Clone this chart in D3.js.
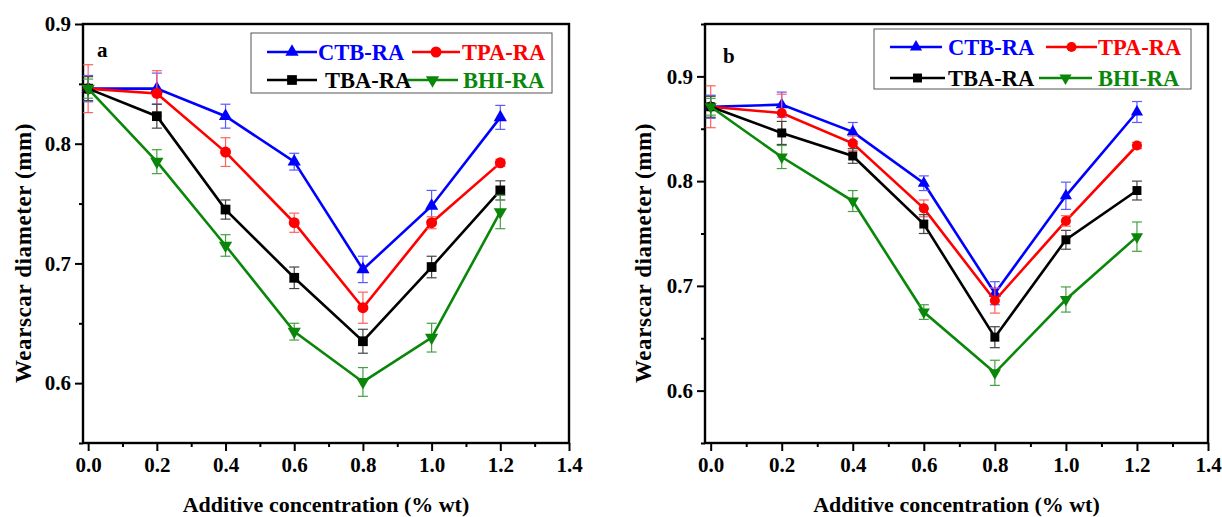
<!DOCTYPE html>
<html><head><meta charset="utf-8">
<script src="https://cdn.jsdelivr.net/npm/d3@7"></script>
<style>body{margin:0;background:#fff;} svg{display:block;}</style>
</head><body>
<svg id="chart" width="1222" height="517"></svg>
<script>
const xValues = [0, 0.2, 0.4, 0.6, 0.8, 1.0, 1.2];
const seriesNames = ["CTB-RA", "TPA-RA", "TBA-RA", "BHI-RA"];
const seriesColors = ["#0000ff", "#ff0000", "#000000", "#0a870a"];
const errColors = ["#5a5aff", "#ff6060", "#444444", "#45a045"];
const seriesSymbols = ["triangle", "circle", "square", "triangleDown"];

// Panel a
const aCTB = [0.846, 0.846, 0.823, 0.785, 0.695, 0.748, 0.822];
const aTPA = [0.846, 0.842, 0.793, 0.734, 0.663, 0.734, 0.784];
const aTBA = [0.846, 0.823, 0.745, 0.688, 0.635, 0.697, 0.761];
const aBHI = [0.846, 0.785, 0.715, 0.643, 0.601, 0.638, 0.743];
const aCTBerr = [0.011, 0.013, 0.010, 0.007, 0.011, 0.013, 0.010];
const aTPAerr = [0.020, 0.019, 0.012, 0.008, 0.013, 0.005, 0.003];
const aTBAerr = [0.010, 0.010, 0.008, 0.009, 0.010, 0.009, 0.008];
const aBHIerr = [0.008, 0.010, 0.009, 0.007, 0.012, 0.012, 0.014];

// Panel b
const bCTB = [0.871, 0.873, 0.847, 0.798, 0.693, 0.786, 0.866];
const bTPA = [0.871, 0.865, 0.836, 0.774, 0.686, 0.762, 0.834];
const bTBA = [0.871, 0.846, 0.824, 0.759, 0.651, 0.744, 0.791];
const bBHI = [0.871, 0.823, 0.781, 0.675, 0.617, 0.687, 0.747];
const bCTBerr = [0.011, 0.012, 0.009, 0.007, 0.011, 0.013, 0.010];
const bTPAerr = [0.020, 0.018, 0.007, 0.008, 0.012, 0.005, 0.003];
const bTBAerr = [0.010, 0.011, 0.007, 0.009, 0.010, 0.009, 0.009];
const bBHIerr = [0.008, 0.011, 0.010, 0.007, 0.012, 0.012, 0.014];

const xTicks = [0, 0.2, 0.4, 0.6, 0.8, 1.0, 1.2, 1.4];
const xMinorTicks = [0.1, 0.3, 0.5, 0.7, 0.9, 1.1, 1.3];
const yTicks = [0.6, 0.7, 0.8, 0.9];
const yMinorA = [0.55, 0.65, 0.75, 0.85];
const yMinorB = [0.55, 0.65, 0.75, 0.85, 0.95];

const xTitle = "Additive concentration (% wt)";
const yTitle = "Wearscar diameter (mm)";

const FONT = "'Liberation Serif','Times New Roman',serif";
const svg = d3.select("#chart");

function drawPanel(cfg) {
  const g = svg.append("g");
  const x = d3.scaleLinear().domain(cfg.xDomain).range([cfg.left, cfg.right]);
  const y = d3.scaleLinear().domain(cfg.yDomain).range([cfg.bottom, cfg.top]);

  // axes
  const xAxis = d3.axisBottom(x).tickValues(xTicks).tickFormat(d3.format(".1f")).tickSize(8).tickPadding(6);
  const xa = g.append("g").attr("transform", `translate(0,${cfg.bottom})`).call(xAxis);
  const xm = g.append("g").attr("transform", `translate(0,${cfg.bottom})`).call(d3.axisBottom(x).tickValues(xMinorTicks).tickFormat("").tickSize(4));
  const yAxis = d3.axisLeft(y).tickValues(yTicks).tickFormat(d3.format(".1f")).tickSize(8).tickPadding(4);
  const ya = g.append("g").attr("transform", `translate(${cfg.left},0)`).call(yAxis);
  const ym = g.append("g").attr("transform", `translate(${cfg.left},0)`).call(d3.axisLeft(y).tickValues(cfg.yMinor).tickFormat("").tickSize(4));
  [xa, xm, ya, ym].forEach(a => {
    a.select(".domain").remove();
    a.selectAll(".tick line").attr("stroke", "#000").attr("stroke-width", 2);
    a.selectAll("text").attr("font-family", FONT).attr("font-weight", "bold").attr("font-size", 21).attr("fill", "#000");
  });

  // frame
  g.append("rect").attr("x", cfg.left).attr("y", cfg.top)
    .attr("width", cfg.right - cfg.left).attr("height", cfg.bottom - cfg.top)
    .attr("fill", "none").attr("stroke", "#000").attr("stroke-width", 2.4);

  // titles
  g.append("text").attr("x", (cfg.left + cfg.right) / 2).attr("y", 512)
    .attr("text-anchor", "middle").attr("font-family", FONT).attr("font-weight", "bold")
    .attr("font-size", 22).text(xTitle);
  g.append("text").attr("transform", `translate(${cfg.yTitleX},253) rotate(-90)`)
    .attr("text-anchor", "middle").attr("font-family", FONT).attr("font-weight", "bold")
    .attr("font-size", 23).attr("letter-spacing", 0.6).text(yTitle);
  g.append("text").attr("x", cfg.labelX).attr("y", cfg.labelY).attr("font-family", FONT)
    .attr("font-weight", "bold").attr("font-size", 21).text(cfg.label);

  const sz = cfg.markerSize;
  const symbols = {
    triangle: d3.symbol().type(d3.symbolTriangle).size(sz * 0.8),
    circle: d3.symbol().type(d3.symbolCircle).size(sz),
    square: d3.symbol().type(d3.symbolSquare).size(sz),
    triangleDown: d3.symbol().type(d3.symbolTriangle).size(sz * 0.8)
  };
  function marker(sel, s, px, py, color) {
    sel.append("path").attr("d", symbols[s]())
      .attr("transform", `translate(${px},${py})` + (s === "triangleDown" ? " rotate(180)" : ""))
      .attr("fill", color);
  }

  // series
  cfg.series.forEach((vals, i) => {
    const errs = cfg.errors[i];
    const col = seriesColors[i];
    const line = d3.line().x((d, j) => x(xValues[j])).y(d => y(d));
    g.append("path").datum(vals).attr("d", line).attr("fill", "none")
      .attr("stroke", col).attr("stroke-width", 2.6);
    vals.forEach((v, j) => {
      const px = x(xValues[j]);
      const y1 = y(v + errs[j]), y2 = y(v - errs[j]);
      const eg = g.append("g").attr("stroke", errColors[i]).attr("stroke-width", 1.2);
      eg.append("line").attr("x1", px).attr("x2", px).attr("y1", y1).attr("y2", y2);
      eg.append("line").attr("x1", px - 5).attr("x2", px + 5).attr("y1", y1).attr("y2", y1);
      eg.append("line").attr("x1", px - 5).attr("x2", px + 5).attr("y1", y2).attr("y2", y2);
    });
    vals.forEach((v, j) => marker(g, seriesSymbols[i], x(xValues[j]), y(v), col));
  });

  // legend
  const L = cfg.legend;
  g.append("rect").attr("x", L.x).attr("y", L.y).attr("width", L.w).attr("height", L.h)
    .attr("fill", "#fff").attr("stroke", "#555").attr("stroke-width", 1);
  seriesNames.forEach((name, i) => {
    const e = L.entries[i];
    const ly = L.y + L.rows[Math.floor(i / 2)];
    g.append("line").attr("x1", L.x + e[0]).attr("x2", L.x + e[1]).attr("y1", ly).attr("y2", ly)
      .attr("stroke", seriesColors[i]).attr("stroke-width", 2.6);
    marker(g, seriesSymbols[i], L.x + (e[0] + e[1]) / 2, ly, seriesColors[i]);
    g.append("text").attr("x", L.x + e[2]).attr("y", ly + 8)
      .attr("font-family", FONT).attr("font-weight", "bold").attr("font-size", 22.5)
      .attr("fill", seriesColors[i]).text(name);
  });
}

drawPanel({
  left: 83, right: 569, top: 24, bottom: 443, xDomain: [-0.015, 1.4], yDomain: [0.55, 0.9], yMinor: yMinorA,
  series: [aCTB, aTPA, aTBA, aBHI], errors: [aCTBerr, aTPAerr, aTBAerr, aBHIerr],
  label: "a", labelX: 97, labelY: 57, yTitleX: 31, markerSize: 95,
  legend: {x: 251, y: 33, w: 301, h: 60, rows: [19, 47],
           entries: [[16, 66, 67], [161, 209, 211], [16, 66, 74], [156, 207, 212]]}
});
drawPanel({
  left: 705, right: 1208, top: 24, bottom: 443, xDomain: [-0.016, 1.4], yDomain: [0.55, 0.95], yMinor: yMinorB,
  series: [bCTB, bTPA, bTBA, bBHI], errors: [bCTBerr, bTPAerr, bTBAerr, bBHIerr],
  label: "b", labelX: 723, labelY: 63, yTitleX: 651, markerSize: 80,
  legend: {x: 874, y: 29, w: 317, h: 60, rows: [18, 49],
           entries: [[16, 68, 74], [172, 223, 224], [16, 71, 74], [165, 218, 224]]}
});
</script>
</body></html>
